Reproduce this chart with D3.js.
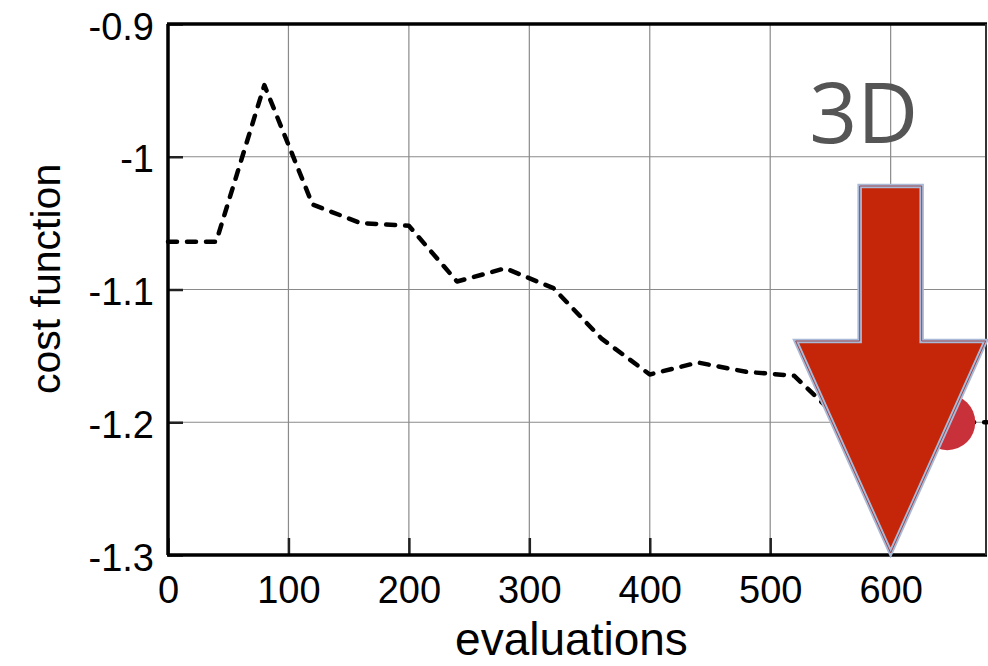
<!DOCTYPE html>
<html>
<head>
<meta charset="utf-8">
<script src="https://cdn.jsdelivr.net/npm/d3@7"></script>
<style>
  body { margin: 0; background: #fff; }
  svg text { font-family: "Liberation Sans", Arial, sans-serif; }
</style>
</head>
<body>
<div id="chart"></div>
<script>
// cost function vs evaluations
var evaluations = [0, 40, 80, 120, 160, 200, 240, 280, 320, 360, 400, 440, 480, 520, 560, 600, 640, 680];
var costValues  = [-1.064, -1.064, -0.946, -1.036, -1.050, -1.052, -1.094, -1.084, -1.099, -1.137, -1.164, -1.155, -1.162, -1.165, -1.200, -1.200, -1.200, -1.200];
var xTicks = [0, 100, 200, 300, 400, 500, 600];
var yTicks = [-0.9, -1.0, -1.1, -1.2, -1.3];
var yTickLabels = ["-0.9", "-1", "-1.1", "-1.2", "-1.3"];
var bestPoint = [{ x: 647, y: -1.2 }];
var arrowAt = { x: 600, y: -1.3 };
var annotation = "3D";

var drawChart = function() {
  var margin = { top: 24, right: 1, bottom: 111, left: 168 },
      width  = 988 - margin.left - margin.right,
      height = 666 - margin.top - margin.bottom;

  var data = evaluations.map(function(d, i) { return { x: d, y: costValues[i] }; });

  var x = d3.scaleLinear()
    .range([0, width])
    .domain([0, 680]);

  var y = d3.scaleLinear()
    .range([height, 0])
    .domain([-1.3, -0.9]);

  var svg = d3.select("#chart").append("svg")
    .attr("width", 988)
    .attr("height", 666)
    .append("g")
      .attr("transform", "translate(" + margin.left + "," + margin.top + ")");

  // grid
  svg.append("g")
    .selectAll("line.gx")
    .data(xTicks.slice(1))
    .enter().append("line")
      .attr("x1", function(d) { return x(d); })
      .attr("x2", function(d) { return x(d); })
      .attr("y1", 0).attr("y2", height)
      .attr("stroke", "#8a8a8a").attr("stroke-width", 1.2);

  svg.append("g")
    .selectAll("line.gy")
    .data(yTicks.slice(1, -1))
    .enter().append("line")
      .attr("x1", 0).attr("x2", width)
      .attr("y1", function(d) { return y(d); })
      .attr("y2", function(d) { return y(d); })
      .attr("stroke", "#8a8a8a").attr("stroke-width", 1.2);

  // x axis
  var xAxis = svg.append("g")
    .attr("transform", "translate(0," + height + ")")
    .call(d3.axisBottom(x)
      .tickValues(xTicks)
      .tickSizeInner(-17)
      .tickSizeOuter(0)
      .tickPadding(21)
      .tickFormat(d3.format("d")));
  xAxis.select(".domain").remove();
  xAxis.selectAll("line").attr("stroke", "#222").attr("stroke-width", 2.5);
  xAxis.selectAll("text").style("font-size", "38px").attr("fill", "#000");

  // y axis
  var yAxis = svg.append("g")
    .call(d3.axisLeft(y)
      .tickValues(yTicks)
      .tickSizeInner(-15)
      .tickSizeOuter(0)
      .tickPadding(14)
      .tickFormat(function(d, i) { return yTickLabels[i]; }));
  yAxis.select(".domain").remove();
  yAxis.selectAll("line").attr("stroke", "#222").attr("stroke-width", 2.5);
  yAxis.selectAll("text").style("font-size", "38px").attr("fill", "#000").attr("dy", "0.4em");

  // frame
  svg.append("line").attr("x1", -1).attr("x2", width).attr("y1", 0).attr("y2", 0)
    .attr("stroke", "#000").attr("stroke-width", 3.5);
  svg.append("line").attr("x1", 0).attr("x2", 0).attr("y1", 0).attr("y2", height)
    .attr("stroke", "#000").attr("stroke-width", 3.5);
  svg.append("line").attr("x1", -1).attr("x2", width).attr("y1", height).attr("y2", height)
    .attr("stroke", "#000").attr("stroke-width", 3.5);
  svg.append("line").attr("x1", width - 1).attr("x2", width - 1).attr("y1", 0).attr("y2", height)
    .attr("stroke", "#333").attr("stroke-width", 2);

  // cost line
  var cost_line = d3.line()
    .x(function(d) { return x(d.x); })
    .y(function(d) { return y(d.y); });

  svg.append("path")
    .attr("d", cost_line(data))
    .attr("fill", "none")
    .attr("stroke", "#000")
    .attr("stroke-width", 4.5)
    .attr("stroke-linecap", "round")
    .attr("stroke-linejoin", "round")
    .attr("stroke-dasharray", "9,10");

  // best point marker
  svg.selectAll("circle.best")
    .data(bestPoint)
    .enter().append("circle")
      .attr("cx", function(d) { return x(d.x); })
      .attr("cy", function(d) { return y(d.y); })
      .attr("r", 28)
      .attr("fill", "#c8303a");

  // arrow annotation
  var ax = x(arrowAt.x), ay = y(arrowAt.y);
  var arrowPts = [
    [ax - 31, ay - 369], [ax + 31, ay - 369], [ax + 31, ay - 214],
    [ax + 95, ay - 214], [ax, ay - 2], [ax - 95, ay - 214], [ax - 31, ay - 214]
  ];
  svg.append("path")
    .attr("d", d3.line()(arrowPts) + "Z")
    .attr("fill", "#c52609")
    .attr("stroke", "#a9bad8")
    .attr("stroke-width", 4.5)
    .attr("stroke-linejoin", "miter");
  svg.append("path")
    .attr("d", d3.line()(arrowPts) + "Z")
    .attr("fill", "none")
    .attr("stroke", "#9a4a50")
    .attr("stroke-width", 1);

  svg.append("text")
    .attr("x", ax - 27)
    .attr("y", 119)
    .style("text-anchor", "middle")
    .style("font-family", "'Open Sans', sans-serif")
    .style("font-size", "84px")
    .attr("fill", "#555")
    .text(annotation);

  // x axis label
  svg.append("text")
    .attr("x", x(335))
    .attr("y", height + 100)
    .style("text-anchor", "middle")
    .style("font-size", "46px")
    .text("evaluations");

  // y axis label
  svg.append("text")
    .attr("transform", "rotate(-90)")
    .attr("x", 0 - (y(-1.1) + y(-1.2)) / 2 + 77)
    .attr("y", 0 - margin.left + 60)
    .style("text-anchor", "middle")
    .style("font-size", "41px")
    .text("cost function");
};

drawChart();
</script>
</body>
</html>
